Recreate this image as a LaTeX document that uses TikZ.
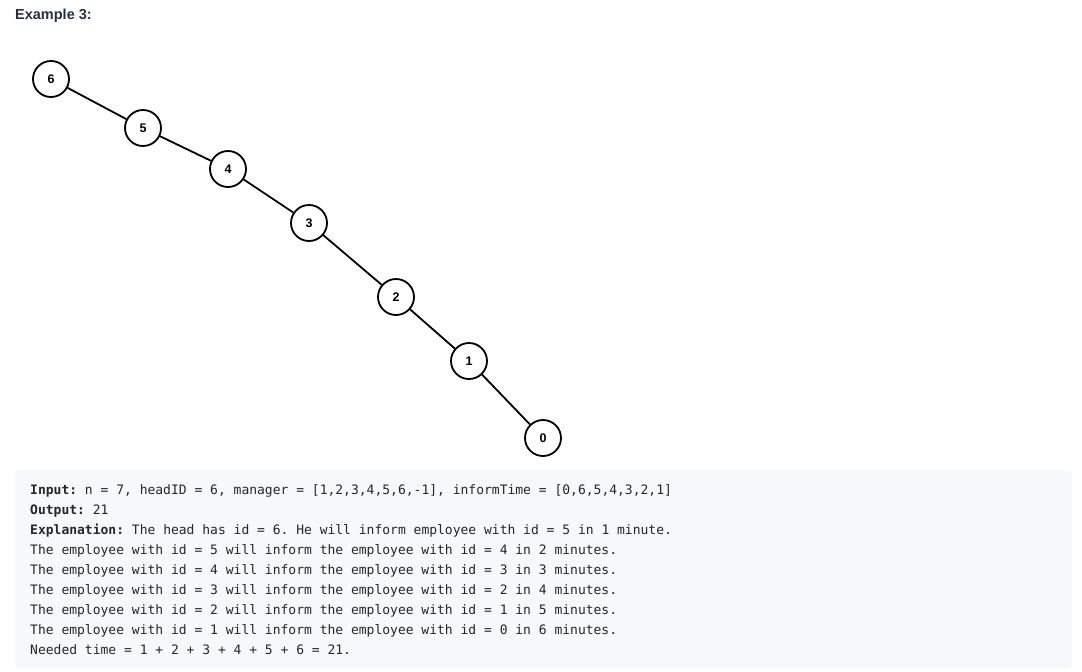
\documentclass[tikz,border=0pt]{standalone}
\usepackage{fontspec}
\setmainfont{Liberation Sans}
\setmonofont{DejaVu Sans Mono}
\newfontfamily\headfont{Liberation Sans}
\definecolor{boxbg}{HTML}{F7F8FA}
\definecolor{txt}{HTML}{262626}
\definecolor{hdr}{HTML}{263238}
\tikzset{
  emp/.style={circle, draw=black, line width=1.8pt, fill=white, minimum size=36pt, inner sep=0pt, font=\headfont\bfseries\fontsize{12.5}{12.5}\selectfont},
  edge/.style={line width=1.8pt, black},
  codeline/.style={anchor=base west, inner sep=0pt, text=txt, font=\ttfamily\fontsize{13}{13}\selectfont}
}
\begin{document}
\begin{tikzpicture}[x=1pt,y=-1pt]
\useasboundingbox (0,0) rectangle (1082,672);
\node[anchor=base west, inner sep=0pt, text=hdr, font=\headfont\bfseries\fontsize{14.5}{14.5}\selectfont] (title) at (15,19.5) {Example 3:};
\node[emp] (n6) at (51,79) {6};
\node[emp] (n5) at (143,128) {5};
\node[emp] (n4) at (228,169) {4};
\node[emp] (n3) at (309,223) {3};
\node[emp] (n2) at (396,297) {2};
\node[emp] (n1) at (469,361) {1};
\node[emp] (n0) at (543,438) {0};
\draw[edge] (n6) -- (n5);
\draw[edge] (n5) -- (n4);
\draw[edge] (n4) -- (n3);
\draw[edge] (n3) -- (n2);
\draw[edge] (n2) -- (n1);
\draw[edge] (n1) -- (n0);
\fill[boxbg, rounded corners=4pt] (15,470) rectangle (1072,668);
\node[codeline] (l1) at (30,494.5) {\textbf{Input:} n = 7, headID = 6, manager = [1,2,3,4,5,6,-1], informTime = [0,6,5,4,3,2,1]};
\node[codeline] (l2) at (30,514.5) {\textbf{Output:} 21};
\node[codeline] (l3) at (30,534.5) {\textbf{Explanation:} The head has id = 6. He will inform employee with id = 5 in 1 minute.};
\node[codeline] (l4) at (30,554.5) {The employee with id = 5 will inform the employee with id = 4 in 2 minutes.};
\node[codeline] (l5) at (30,574.5) {The employee with id = 4 will inform the employee with id = 3 in 3 minutes.};
\node[codeline] (l6) at (30,594.5) {The employee with id = 3 will inform the employee with id = 2 in 4 minutes.};
\node[codeline] (l7) at (30,614.5) {The employee with id = 2 will inform the employee with id = 1 in 5 minutes.};
\node[codeline] (l8) at (30,634.5) {The employee with id = 1 will inform the employee with id = 0 in 6 minutes.};
\node[codeline] (l9) at (30,654.5) {Needed time = 1 + 2 + 3 + 4 + 5 + 6 = 21.};
\end{tikzpicture}
\end{document}
